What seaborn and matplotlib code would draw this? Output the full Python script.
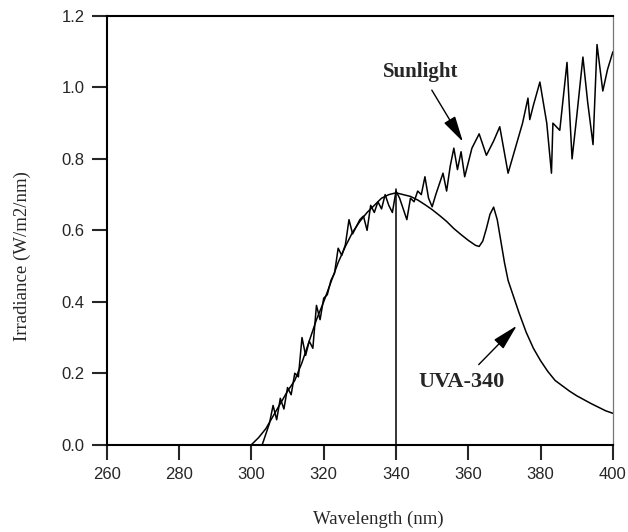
import numpy as np
import pandas as pd
import matplotlib
matplotlib.use("Agg")
import matplotlib.pyplot as plt
import seaborn as sns

sns.set_style("ticks")

# UVA-340 lamp spectrum (smooth)
uva_wl = [300, 302, 304, 306, 308, 310, 312, 314, 316, 318, 320, 322, 324, 326, 328,
          330, 332, 334, 336, 338, 340, 342, 344, 346, 348, 350, 352, 354, 356, 358,
          360, 362, 363, 364, 365, 366, 367, 368, 369, 370, 371, 372, 374, 376, 378,
          380, 382, 384, 386, 388, 390, 392, 394, 396, 398, 400]
uva_val = [0.0, 0.02, 0.045, 0.08, 0.115, 0.15, 0.18, 0.23, 0.29, 0.35, 0.40, 0.455, 0.51, 0.555, 0.595,
           0.625, 0.65, 0.67, 0.69, 0.70, 0.705, 0.70, 0.695, 0.685, 0.672, 0.658, 0.642, 0.625, 0.605, 0.588,
           0.572, 0.558, 0.555, 0.57, 0.605, 0.645, 0.665, 0.63, 0.57, 0.51, 0.46, 0.43, 0.37, 0.315, 0.27,
           0.235, 0.205, 0.18, 0.165, 0.15, 0.137, 0.126, 0.115, 0.105, 0.095, 0.088]

# sunlight spectrum (jagged)
sun_wl = [303, 304, 305, 306, 307, 308, 309, 310, 311, 312, 313, 314, 315, 316, 317, 318, 319, 320,
          321, 322, 323, 324, 325, 326, 327, 328, 329, 330, 331, 332, 333, 334, 335, 336, 337, 338,
          339, 340, 341, 342, 343, 344, 345, 346, 347, 348, 349, 350, 351, 352, 353, 354, 355, 356,
          357, 358, 359, 360, 361, 363, 365, 367, 368.7, 371, 373, 375, 376.5, 377, 378, 379.8,
          381.7, 383, 383.4, 385.3, 387.3, 388.7, 390, 391.7, 393, 394.5, 395.6, 397.2, 398.5, 400]
sun_val = [0.0, 0.03, 0.06, 0.11, 0.07, 0.13, 0.10, 0.16, 0.14, 0.20, 0.19, 0.30, 0.25, 0.29, 0.27, 0.39, 0.35, 0.41,
           0.42, 0.46, 0.48, 0.55, 0.53, 0.56, 0.63, 0.59, 0.61, 0.63, 0.64, 0.60, 0.67, 0.65, 0.68, 0.66, 0.70, 0.67,
           0.65, 0.71, 0.69, 0.66, 0.63, 0.69, 0.68, 0.71, 0.70, 0.75, 0.69, 0.666, 0.70, 0.73, 0.76, 0.71, 0.78, 0.83,
           0.77, 0.82, 0.75, 0.79, 0.83, 0.87, 0.81, 0.85, 0.89, 0.76, 0.83, 0.90, 0.97, 0.91, 0.95, 1.015,
           0.90, 0.76, 0.90, 0.88, 1.07, 0.80, 0.92, 1.085, 0.96, 0.84, 1.12, 0.99, 1.05, 1.10]

# marker line at 340 nm
peak_wl = 340
peak_val = 0.715

x_ticks = [260, 280, 300, 320, 340, 360, 380, 400]
y_ticks = [0.0, 0.2, 0.4, 0.6, 0.8, 1.0, 1.2]

fig = plt.figure(figsize=(6.28, 5.32), dpi=100)
ax = fig.add_axes([0.170, 0.164, 0.806, 0.806])

sns.lineplot(x=uva_wl, y=uva_val, color="black", lw=1.1, estimator=None, sort=False, ax=ax)
sns.lineplot(x=sun_wl, y=sun_val, color="black", lw=1.1, estimator=None, sort=False, ax=ax)
ax.plot([peak_wl, peak_wl], [0, peak_val], color="black", lw=1.1)

ax.set_xlim(260, 400)
ax.set_ylim(0, 1.2)
ax.set_xticks(x_ticks)
ax.set_yticks(y_ticks)
ax.set_yticklabels([f"{v:.1f}" for v in y_ticks])
ax.tick_params(direction="out", length=11, width=1.5, labelsize=12, pad=5)
for lab in ax.get_xticklabels() + ax.get_yticklabels():
    lab.set_family("Liberation Sans")

for side in ["left", "bottom", "top"]:
    ax.spines[side].set_visible(True)
    ax.spines[side].set_color("black")
    ax.spines[side].set_linewidth(1.5)
ax.spines["right"].set_visible(True)
ax.spines["right"].set_color("#777777")
ax.spines["right"].set_linewidth(0.9)

ax.set_xlabel("Wavelength (nm)", family="Liberation Serif", fontsize=13.5, va="center")
ax.set_ylabel("Irradiance (W/m2/nm)", family="Liberation Serif", fontsize=13.5, va="center")
ax.xaxis.set_label_coords(0.537, -0.175)
ax.yaxis.set_label_coords(-0.166, 0.44)

arrow = dict(arrowstyle="-|>,head_length=1.6,head_width=0.4", color="black", lw=1.0,
             shrinkA=4, shrinkB=0, mutation_scale=10)
ax.annotate("Sunlight", xy=(358.5, 0.848), xytext=(346.9, 1.043),
            family="Liberation Serif", fontweight="bold", fontsize=15,
            ha="center", va="center", arrowprops=arrow)
ax.annotate("UVA-340", xy=(373.4, 0.333), xytext=(358.2, 0.176),
            family="Liberation Serif", fontweight="bold", fontsize=16,
            ha="center", va="center", arrowprops=arrow)

fig.savefig("out.png", dpi=100)
